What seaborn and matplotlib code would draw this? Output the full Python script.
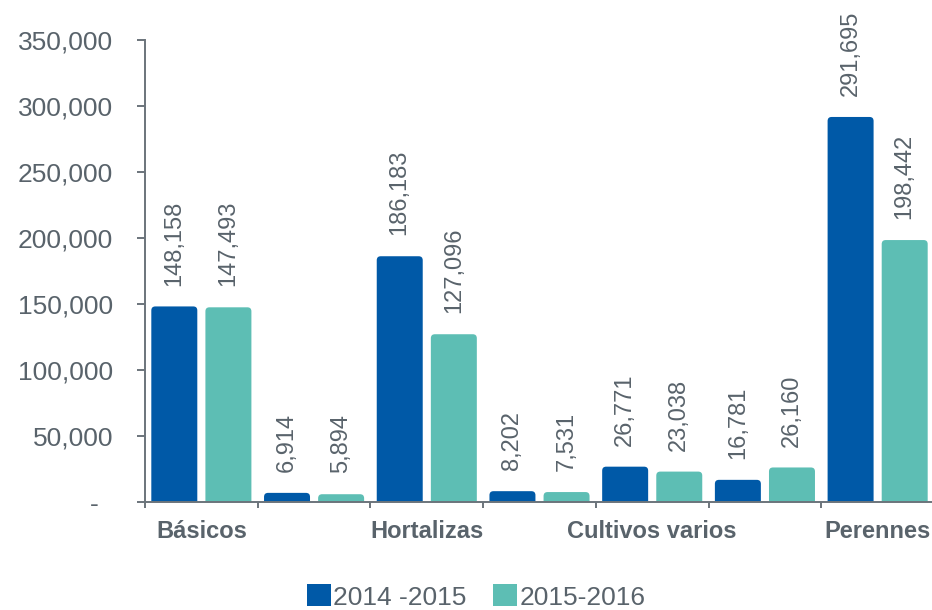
import matplotlib
matplotlib.use("Agg")
import matplotlib.pyplot as plt
import seaborn as sns
import pandas as pd
from matplotlib.patches import FancyBboxPatch, Patch
from matplotlib.ticker import FixedLocator

# ---- data ----
categories = ["Básicos", "Básicos-2", "Hortalizas", "Hortalizas-2",
              "Cultivos varios", "Cultivos varios-2", "Perennes"]
tick_labels = ["Básicos", "", "Hortalizas", "", "Cultivos varios", "", "Perennes"]
seasons = ["2014 -2015", "2015-2016"]
values_2014_2015 = [148158, 6914, 186183, 8202, 26771, 16781, 291695]
values_2015_2016 = [147493, 5894, 127096, 7531, 23038, 26160, 198442]
y_ticks = [0, 50000, 100000, 150000, 200000, 250000, 300000, 350000]
y_tick_labels = ["-  ", "50,000", "100,000", "150,000", "200,000",
                 "250,000", "300,000", "350,000"]

df = pd.DataFrame({
    "cat": categories * 2,
    "season": [seasons[0]] * len(categories) + [seasons[1]] * len(categories),
    "value": values_2014_2015 + values_2015_2016,
})

BLUE = "#0059A7"
TEAL = "#5DBEB4"
TXT = "#59636B"
AX = "#6B747B"

sns.set_style("white")
plt.rcParams["font.family"] = ["Liberation Sans", "DejaVu Sans"]

fig = plt.figure(figsize=(9.32, 6.10), dpi=100)
ax = fig.add_axes([145 / 932, 1 - 502 / 610, 789 / 932, 462 / 610])

sns.barplot(data=df, x="cat", y="value", hue="season", order=categories,
            hue_order=seasons, palette=[BLUE, TEAL], width=0.96, gap=0.15,
            saturation=1, legend=False, ax=ax)

ax.set_ylim(0, 350000)
ax.set_xlim(-0.5, len(categories) - 0.5)

# value labels
for cont in ax.containers:
    ax.bar_label(cont, labels=[f"{v:,.0f}" for v in cont.datavalues],
                 rotation=90, padding=15, fontsize=17, color=TXT)

# rounded bar tops
px_x = 1.0 / 112.7          # data units per pixel (x)
px_y = 350000 / 462.0       # data units per pixel (y)
rx = 4 * px_x
ry = 4 * px_y
rects = [p for p in list(ax.patches)]
for r in rects:
    x, y, w, h = r.get_x(), r.get_y(), r.get_width(), r.get_height()
    fc = r.get_facecolor()
    r.remove()
    fb = FancyBboxPatch((x, y - ry), w, h + ry,
                        boxstyle=f"round,pad=0,rounding_size={rx}",
                        mutation_aspect=ry / rx, facecolor=fc,
                        edgecolor="none", zorder=2)
    ax.add_patch(fb)

# axes styling
for s in ["top", "right"]:
    ax.spines[s].set_visible(False)
for s in ["left", "bottom"]:
    ax.spines[s].set_color(AX)
    ax.spines[s].set_linewidth(1.4)
    ax.spines[s].set_zorder(3)

ax.set_yticks(y_ticks)
ax.set_yticklabels(y_tick_labels)
ax.tick_params(axis="y", direction="out", length=5.8, width=1.4, color=AX,
               pad=17, labelsize=19, labelcolor=TXT, left=True)

ax.set_xticks(range(len(categories)))
ax.set_xticklabels(tick_labels, fontweight="bold")
ax.xaxis.set_minor_locator(FixedLocator([i - 0.5 for i in range(len(categories) + 1)]))
ax.tick_params(axis="x", which="major", length=0, pad=13, labelsize=17,
               labelcolor=TXT)
ax.tick_params(axis="x", which="minor", direction="out", length=4.5,
               width=1.4, color=AX, bottom=True)
ax.set_xlabel("")
ax.set_ylabel("")

handles = [Patch(facecolor=BLUE, edgecolor="none"),
           Patch(facecolor=TEAL, edgecolor="none")]
fig.legend(handles, seasons, loc="center", bbox_to_anchor=(0.511, 1 - 597 / 610),
           ncol=2, frameon=False, fontsize=19, handlelength=0.9,
           handleheight=0.9, handletextpad=0.1, columnspacing=1.0,
           labelcolor=TXT)

fig.savefig("out.png", dpi=100)
